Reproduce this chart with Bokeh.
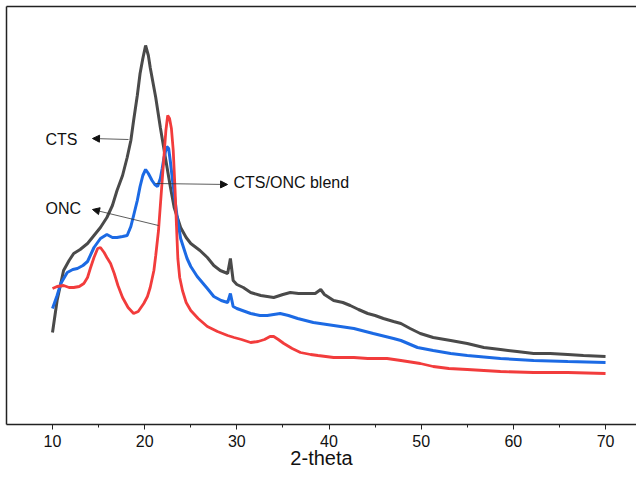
from bokeh.plotting import figure
from bokeh.models import (Range1d, LinearAxis, FixedTicker, SingleIntervalTicker,
                          Arrow, NormalHead, ColumnDataSource)
from bokeh.core.properties import value
from bokeh.embed import file_html
from bokeh.resources import INLINE

# ---- data (2-theta in degrees, intensity in arbitrary units) ----
cts_x = [10.0, 10.5, 11.2, 11.8, 12.3, 13.0, 13.8, 14.5, 15.2, 15.9, 16.5, 17.0, 17.6,
         18.1, 18.5, 18.8, 19.2, 19.5, 19.8, 20.1, 20.4, 20.6, 20.9, 21.2, 21.7, 22.3,
         22.8, 23.2, 23.9, 24.5, 25.0, 26.0, 26.8, 27.5, 28.2, 29.0, 29.3, 29.6, 30.0,
         30.7, 31.5, 32.6, 34.0, 35.0, 35.8, 36.7, 37.6, 38.5, 39.1, 39.5, 40.5, 41.5,
         42.3, 43.2, 44.2, 45.0, 45.9, 47.0, 47.8, 48.8, 49.9, 51.3, 53.2, 55.0, 56.8,
         58.6, 60.4, 62.2, 64.0, 65.9, 67.6, 70.0]
cts_y = [92, 124, 154, 164, 171, 175, 181, 189, 197, 207, 219, 234, 249,
         267, 284, 304, 329, 351, 366, 379, 369, 357, 342, 327, 297, 264,
         237, 217, 197, 187, 181, 174, 167, 159, 154, 151, 166, 144, 140,
         137, 132, 129, 127, 130, 132, 131, 131, 131, 135, 130, 124, 122,
         119, 115, 111, 109, 106, 103, 101, 96, 91, 87, 84, 81, 77,
         75, 73, 71, 71, 70, 69, 68]

blend_x = [10.0, 10.5, 10.9, 11.6, 12.2, 12.7, 13.3, 13.8, 14.5, 15.2, 15.9, 16.5, 17.0,
           17.6, 18.1, 18.5, 18.8, 19.2, 19.5, 19.8, 20.1, 20.4, 20.8, 21.1, 21.4, 21.7,
           21.9, 22.1, 22.4, 22.6, 22.8, 23.0, 23.2, 23.5, 23.9, 24.6, 25.0, 25.7, 26.8,
           27.5, 28.3, 29.0, 29.3, 29.6, 30.0, 31.5, 32.5, 33.3, 34.7, 35.6, 36.6, 38.3,
           40.5, 42.7, 44.8, 47.0, 47.8, 49.6, 51.3, 53.2, 55.0, 58.6, 62.2, 65.9, 70.0]
blend_y = [116, 129, 141, 152, 155, 156, 159, 163, 177, 186, 190, 187, 187,
           188, 189, 198, 209, 224, 238, 249, 255, 251, 244, 240, 238, 246,
           256, 267, 278, 276, 262, 246, 231, 209, 186, 166, 158, 148, 136,
           128, 124, 122, 131, 118, 116, 111, 109, 109, 111, 109, 106, 102,
           99, 96, 91, 86, 84, 77, 74, 71, 69, 66, 64, 63, 62]

onc_x = [10.0, 10.5, 11.2, 11.8, 12.3, 12.9, 13.4, 13.8, 14.1, 14.5, 14.9, 15.2, 15.6,
         15.9, 16.3, 16.7, 17.1, 17.6, 18.2, 18.8, 19.3, 19.9, 20.3, 20.6, 21.0, 21.2,
         21.5, 21.7, 21.9, 22.1, 22.3, 22.5, 22.7, 22.9, 23.1, 23.3, 23.45, 23.6, 23.8,
         24.1, 24.5, 25.0, 25.8, 26.8, 27.9, 29.0, 29.7, 30.5, 31.5, 32.3, 33.0, 33.6,
         34.0, 34.5, 35.1, 36.0, 36.9, 38.0, 38.8, 40.5, 42.7, 44.2, 46.3, 47.8, 48.5,
         49.9, 51.3, 53.0, 55.0, 58.6, 62.2, 65.9, 70.0]
onc_y = [136, 138, 139, 137, 137, 138, 141, 147, 156, 167, 176, 177, 172,
         167, 161, 151, 139, 127, 117, 111, 113, 121, 128, 137, 154, 169,
         194, 219, 244, 269, 294, 309, 306, 296, 274, 234, 199, 166, 147,
         134, 122, 114, 106, 98, 93, 89, 87, 85, 82, 83, 85, 88,
         88, 85, 81, 76, 72, 70, 69, 67, 67, 66, 66, 64, 63,
         61, 58, 56, 55, 53, 52, 52, 51]

label_text = ["CTS", "CTS/ONC blend", "ONC"]
label_x = [9.24, 29.64, 9.24]
label_y = [285, 242, 216]
arrow_x0 = [18.25, 21.18, 21.5]
arrow_y0 = [285, 241, 199]
arrow_x1 = [14.34, 28.99, 14.34]
arrow_y1 = [286, 240, 215]

x_axis_title = "2-theta"
x_ticks_interval = 10

# ---- figure ----
p = figure(width=636, height=472, output_backend="svg", toolbar_location=None,
           x_range=Range1d(5.009, 73.36), y_range=Range1d(0, 418),
           min_border_left=6, min_border_right=0, min_border_top=6,
           min_border_bottom=48)
p.outline_line_color = None
p.xgrid.visible = False
p.ygrid.visible = False
p.background_fill_color = "white"

p.line(cts_x, cts_y, line_color="#4a4a4a", line_width=3)
p.line(blend_x, blend_y, line_color="#1c6ae4", line_width=3)
p.line(onc_x, onc_y, line_color="#f23c3c", line_width=2.8)

# x axis
xa = p.xaxis[0]
xa.ticker = SingleIntervalTicker(interval=x_ticks_interval, num_minor_ticks=2)
xa.axis_label = x_axis_title
xa.axis_label_text_font = "Liberation Sans"
xa.axis_label_text_font_size = "20px"
xa.axis_label_text_font_style = "normal"
xa.axis_label_text_color = "#111111"
xa.axis_label_standoff = -3
xa.major_label_text_font = "Liberation Sans"
xa.major_label_text_font_size = "16px"
xa.major_label_text_color = "#111111"
xa.major_label_standoff = 5
xa.major_tick_out = 5
xa.major_tick_in = 0
xa.minor_tick_out = 3
xa.minor_tick_in = 0
xa.axis_line_color = "#222222"
xa.axis_line_width = 1.5
xa.major_tick_line_color = "#222222"
xa.minor_tick_line_color = "#222222"

# y axis (line only)
ya = p.yaxis[0]
ya.ticker = FixedTicker(ticks=[])
ya.major_tick_out = 0
ya.major_tick_in = 0
ya.minor_tick_out = 0
ya.minor_tick_in = 0
ya.major_label_standoff = 0
ya.axis_line_color = "#222222"
ya.axis_line_width = 1.5

# top line
top = LinearAxis(ticker=FixedTicker(ticks=[]), major_tick_out=0, major_tick_in=0,
                 minor_tick_out=0, minor_tick_in=0, major_label_standoff=0,
                 axis_line_color="#222222", axis_line_width=1.5)
p.add_layout(top, "above")

# labels and arrows
src = ColumnDataSource(dict(x=label_x, y=label_y, t=label_text))
p.text(x="x", y="y", text="t", source=src, text_font=value("Liberation Sans"),
       text_font_size="16px", text_align="left", text_baseline="middle",
       text_color="#111111")
for i in range(len(arrow_x0)):
    p.add_layout(Arrow(end=NormalHead(size=7, fill_color="#111111", line_color="#111111"),
                       x_start=arrow_x0[i], y_start=arrow_y0[i],
                       x_end=arrow_x1[i], y_end=arrow_y1[i],
                       line_width=0.8, line_color="#333333"))

open("out.html", "w").write(file_html(p, INLINE))
